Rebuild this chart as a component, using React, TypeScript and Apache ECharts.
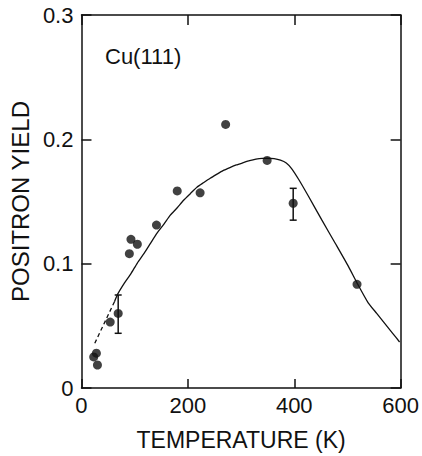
import React, { useEffect, useRef } from "react";
import * as echarts from "echarts";

// Measured points (temperature K, positron yield)
const pointT = [23, 28, 30, 54, 69, 90, 93, 105, 141, 180, 223, 271, 349, 398, 518];
const pointY = [0.025, 0.028, 0.0185, 0.053, 0.060, 0.108, 0.1196, 0.1156, 0.131, 0.1585, 0.157, 0.212, 0.183, 0.1486, 0.0834];

// Error bars: temperature, low, high
const errT = [69, 398];
const errLow = [0.044, 0.135];
const errHigh = [0.0748, 0.1606];

// Fitted curve (solid part)
const curveT = [62, 68, 80, 93, 105, 118, 130, 142, 155, 167, 180, 192, 205, 217, 230, 242, 254, 266, 279, 291, 304, 316, 328, 340, 350, 362, 374, 385, 395, 409, 427, 452, 477, 502, 518, 539, 555, 570, 585, 598];
const curveY = [0.0694, 0.0755, 0.084, 0.092, 0.1005, 0.1084, 0.1165, 0.1245, 0.1318, 0.139, 0.145, 0.151, 0.1565, 0.1615, 0.1653, 0.1687, 0.1718, 0.1748, 0.1773, 0.1794, 0.1812, 0.1828, 0.184, 0.1847, 0.1848, 0.1845, 0.1833, 0.181, 0.1765, 0.1673, 0.154, 0.135, 0.1164, 0.0976, 0.0845, 0.0685, 0.060, 0.052, 0.044, 0.037];

// Extrapolated (dashed) part
const dashT = [25, 62];
const dashY = [0.036, 0.0694];

const xTicks = [0, 200, 400, 600];
const yTicks = [0, 0.1, 0.2, 0.3];

const INK = "#111";
const FONT = "Liberation Sans";

export default function App() {
  const ref = useRef<HTMLDivElement>(null);

  useEffect(() => {
    document.body.style.margin = "0";
    const chart = echarts.init(ref.current!, null, { renderer: "svg" });

    const axisCommon = {
      type: "value" as const,
      axisLine: { show: true, onZero: false, lineStyle: { color: INK, width: 1.5 } },
      splitLine: { show: false },
    };
    const tickStyle = { color: INK, width: 1.5 };

    chart.setOption({
      animation: false,
      backgroundColor: "#fff",
      grid: { left: 80, right: 19, top: 15, bottom: 68 },
      xAxis: [
        {
          ...axisCommon,
          min: xTicks[0],
          max: xTicks[xTicks.length - 1],
          interval: 200,
          position: "bottom",
          axisTick: { show: true, inside: true, length: 9, lineStyle: tickStyle },
          axisLabel: { color: INK, fontSize: 22, fontFamily: FONT, margin: 6 },
          name: "TEMPERATURE (K)",
          nameLocation: "middle",
          nameGap: 40,
          nameTextStyle: { color: INK, fontSize: 23, fontFamily: FONT },
        },
        {
          ...axisCommon,
          min: xTicks[0],
          max: xTicks[xTicks.length - 1],
          interval: 200,
          position: "top",
          axisTick: { show: true, inside: true, length: 10, lineStyle: tickStyle },
          axisLabel: { show: false },
        },
      ],
      yAxis: [
        {
          ...axisCommon,
          min: yTicks[0],
          max: yTicks[yTicks.length - 1],
          interval: 0.1,
          position: "left",
          axisTick: { show: true, inside: true, length: 10, lineStyle: tickStyle },
          axisLabel: {
            color: INK,
            fontSize: 22,
            fontFamily: FONT,
            margin: 8,
            formatter: (v: number) => (v === 0 ? "0" : v.toFixed(1)),
          },
          name: "POSITRON YIELD",
          nameLocation: "middle",
          nameRotate: 90,
          nameGap: 44,
          nameTextStyle: { color: INK, fontSize: 24, fontFamily: FONT },
        },
        {
          ...axisCommon,
          min: yTicks[0],
          max: yTicks[yTicks.length - 1],
          interval: 0.1,
          position: "right",
          axisTick: { show: true, inside: true, length: 10, lineStyle: tickStyle },
          axisLabel: { show: false },
        },
      ],
      graphic: [
        {
          type: "text",
          left: 105,
          top: 45,
          style: { text: "Cu(111)", fontSize: 22, fontFamily: FONT, fill: INK },
        },
      ],
      series: [
        {
          type: "line",
          data: curveT.map((t, i) => [t, curveY[i]]),
          smooth: 0.2,
          showSymbol: false,
          lineStyle: { color: INK, width: 1.3 },
          z: 2,
        },
        {
          type: "line",
          data: dashT.map((t, i) => [t, dashY[i]]),
          showSymbol: false,
          lineStyle: { color: INK, width: 1.3, type: [4, 3] },
          z: 2,
        },
        {
          type: "custom",
          data: errT.map((t, i) => [t, errLow[i], errHigh[i]]),
          encode: { x: 0, y: [1, 2] },
          renderItem: (params: any, api: any) => {
            const lo = api.coord([api.value(0), api.value(1)]);
            const hi = api.coord([api.value(0), api.value(2)]);
            const w = 3.5;
            const st = { stroke: INK, lineWidth: 1.5 };
            return {
              type: "group",
              children: [
                { type: "line", shape: { x1: lo[0], y1: lo[1], x2: hi[0], y2: hi[1] }, style: st },
                { type: "line", shape: { x1: lo[0] - w, y1: lo[1], x2: lo[0] + w, y2: lo[1] }, style: st },
                { type: "line", shape: { x1: hi[0] - w, y1: hi[1], x2: hi[0] + w, y2: hi[1] }, style: st },
              ],
            };
          },
          z: 3,
        },
        {
          type: "scatter",
          data: pointT.map((t, i) => [t, pointY[i]]),
          symbol: "circle",
          symbolSize: 9,
          itemStyle: { color: INK },
          z: 4,
        },
      ],
    });

    return () => chart.dispose();
  }, []);

  return <div ref={ref} style={{ width: 422, height: 456 }} />;
}
